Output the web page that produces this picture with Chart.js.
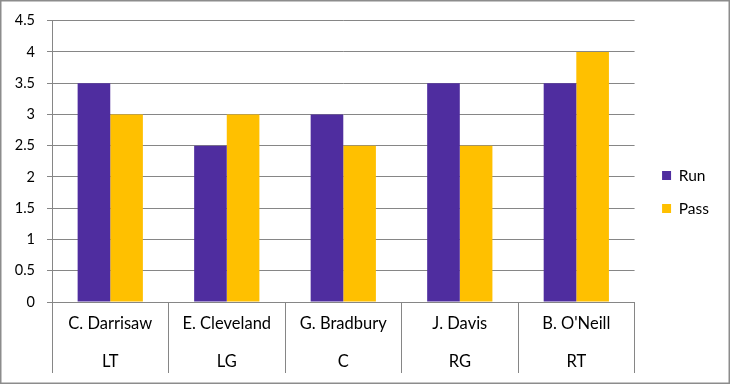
<!DOCTYPE html>
<html>
<head>
<meta charset="utf-8">
<script src="https://cdn.jsdelivr.net/npm/chart.js@4.4.1/dist/chart.umd.min.js"></script>
<style>
  html, body { margin: 0; padding: 0; background: #fff; }
  #wrap { width: 730px; height: 384px; position: relative; }
</style>
</head>
<body>
<div id="wrap"><canvas id="c" width="730" height="384"></canvas></div>
<script>
const players = ['C. Darrisaw', 'E. Cleveland', 'G. Bradbury', 'J. Davis', "B. O'Neill"];
const positions = ['LT', 'LG', 'C', 'RG', 'RT'];
const runValues = [3.5, 2.5, 3, 3.5, 3.5];
const passValues = [3, 3, 2.5, 2.5, 4];
const seriesNames = ['Run', 'Pass'];
const yTicks = { min: 0, max: 4.5, step: 0.5 };

const FONT = 'Lato, "Open Sans", sans-serif';
const GRID = '#868686';

const borderPlugin = {
  id: 'outerBorder',
  beforeDraw(chart) {
    const ctx = chart.ctx;
    ctx.save();
    ctx.fillStyle = '#fff';
    ctx.fillRect(0, 0, chart.width, chart.height);
    ctx.strokeStyle = '#8c8c8c';
    ctx.lineWidth = 1.5;
    ctx.strokeRect(0.75, 0.75, chart.width - 1.5, chart.height - 1.5);
    ctx.restore();
  }
};

const hiddenSpacer = (pos, size) => ({
  type: 'category',
  position: pos,
  labels: players,
  ticks: { display: false },
  grid: { display: false },
  border: { display: false },
  afterFit(scale) { if (scale.isHorizontal()) scale.height = size; else scale.width = size; }
});

new Chart(document.getElementById('c'), {
  type: 'bar',
  data: {
    labels: players,
    datasets: [
      { label: seriesNames[0], data: runValues, backgroundColor: '#4F2D9F', borderWidth: 0 },
      { label: seriesNames[1], data: passValues, backgroundColor: '#FFC000', borderWidth: 0 }
    ]
  },
  options: {
    responsive: false,
    animation: false,
    devicePixelRatio: 1,
    layout: { padding: { left: 0, right: 11, top: 10, bottom: 10 } },
    datasets: { bar: { categoryPercentage: 0.56, barPercentage: 1.0 } },
    plugins: {
      legend: {
        position: 'right',
        labels: {
          boxWidth: 9, boxHeight: 9, padding: 17.5,
          color: '#000',
          font: { family: FONT, size: 15.5 }
        }
      },
      tooltip: { enabled: false }
    },
    scales: {
      y: {
        min: yTicks.min, max: yTicks.max,
        ticks: { stepSize: yTicks.step, color: '#000', padding: 12, font: { family: FONT, size: 14.5 },
                 callback: v => String(v) },
        grid: { color: GRID, lineWidth: 1, tickLength: 5, drawTicks: true },
        border: { color: GRID, width: 1 },
        afterFit(scale) { scale.width = 52; }
      },
      x: {
        weight: 0,
        offset: true,
        ticks: {
          color: '#000', padding: -27.5, maxRotation: 0, autoSkip: false,
          font: { family: FONT, size: 16.5 }
        },
        grid: { offset: true, drawOnChartArea: false, drawTicks: true, tickLength: 39, color: GRID, lineWidth: 1 },
        border: { color: GRID, width: 1 },
        afterFit(scale) { scale.height = 39; }
      },
      x2: {
        type: 'category',
        position: 'bottom',
        weight: 1,
        labels: positions,
        offset: true,
        ticks: {
          color: '#000', padding: -21, maxRotation: 0, autoSkip: false,
          font: { family: FONT, size: 16.5 }
        },
        grid: { offset: true, drawOnChartArea: false, drawTicks: true, tickLength: 32, color: GRID, lineWidth: 1 },
        border: { display: false },
        afterFit(scale) { scale.height = 33; }
      },
      topSpace: hiddenSpacer('top', 10),
      rightSpace: hiddenSpacer('right', 10)
    }
  },
  plugins: [borderPlugin]
});
</script>
</body>
</html>
